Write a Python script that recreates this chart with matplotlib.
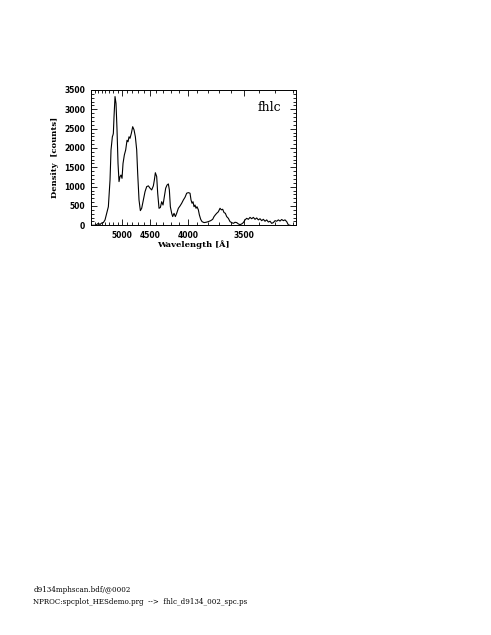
import numpy as np
import matplotlib
matplotlib.use("Agg")
import matplotlib.pyplot as plt

# scan pixel position along the objective-prism spectrum, and measured density
scan_pixel = [0, 15, 23, 28, 33, 38, 43, 48, 53, 58, 61, 65, 67, 68, 70, 73, 76, 79,
              82, 85, 88, 91, 94, 97, 101, 105, 109, 112, 115, 118, 122, 126, 130,
              134, 138, 141, 145, 149, 153, 158, 163, 168, 173, 178, 183, 188, 191,
              194, 198, 201, 205, 209, 213, 217, 221, 225, 229, 233, 236, 239, 243,
              246, 250, 254, 258, 263, 268, 273, 278, 283, 288, 293, 298, 301, 304,
              307, 310, 313, 316, 319, 323, 326, 330, 334, 340, 346, 353, 360, 366,
              370, 374, 378, 383, 388, 392, 396, 400, 404, 408, 413, 418, 423, 428,
              433, 438, 443, 448, 453, 458, 463, 468, 473, 478, 483, 488, 493, 498,
              503, 508, 513, 518, 523, 528, 533, 538, 543, 548, 553, 558, 563, 568,
              573, 578, 583, 588, 593, 598]
density = [0, 0, 50, 20, 60, 70, 140, 310, 480, 1170, 1950, 2290, 2340, 2380, 2810,
           3330, 3150, 2470, 1600, 1130, 1260, 1300, 1215, 1600, 1820, 1950, 2200,
           2160, 2290, 2250, 2380, 2550, 2470, 2290, 1950, 1340, 655, 380, 440, 655,
           870, 1000, 1020, 960, 915, 1020, 1170, 1360, 1260, 830, 440, 460, 610, 525,
           740, 960, 1040, 1070, 915, 480, 310, 225, 310, 225, 310, 440, 500, 570,
           655, 725, 830, 845, 830, 655, 570, 610, 480, 525, 440, 480, 400, 270, 155,
           95, 70, 78, 95, 120, 155, 225, 270, 310, 350, 440, 400, 415, 330, 310, 225,
           180, 95, 70, 50, 78, 70, 35, 17, 35, 70, 140, 180, 155, 205, 170, 205, 155,
           190, 140, 170, 120, 155, 105, 140, 85, 105, 50, 70, 120, 105, 140, 110,
           150, 120, 140, 95, 10, 0]

major_wl = [5000, 4500, 4000, 3500]
minor_wl = list(range(3200, 5900, 100))


def wl_to_pixel(wl):
    # prism dispersion (Hartmann-type relation)
    return -416.3 + 1840200.0 / (np.asarray(wl, dtype=float) - 1400.0)


fig = plt.figure(figsize=(4.91, 6.35), dpi=100)
ax = fig.add_axes([0.1847, 0.6452, 0.4182, 0.2131])

ax.plot(scan_pixel, density, color="black", linewidth=0.8)

ax.set_xlim(0, 616)
ax.set_ylim(0, 3500)

ax.set_xticks(wl_to_pixel(major_wl))
ax.set_xticklabels([str(w) for w in major_wl])
ax.set_xticks(wl_to_pixel(minor_wl), minor=True)
ax.set_yticks(range(0, 3501, 500))
ax.set_yticks(range(0, 3501, 100), minor=True)

ax.tick_params(which="both", direction="in", top=True, right=True, width=0.6)
ax.tick_params(which="major", length=4, labelsize=5.5, pad=4)
ax.tick_params(which="minor", length=2)
for lab in ax.get_xticklabels() + ax.get_yticklabels():
    lab.set_fontweight("bold")
    lab.set_family("DejaVu Sans")
for s in ax.spines.values():
    s.set_linewidth(0.7)

ax.set_xlabel("Wavelength [Å]", fontsize=6, fontweight="bold", family="DejaVu Serif", labelpad=0)
ax.set_ylabel("Density  [counts]", fontsize=6, fontweight="bold", family="DejaVu Serif", labelpad=4)

ax.text(0.93, 0.87, "fhlc", transform=ax.transAxes, ha="right", va="center",
        fontsize=9, family="DejaVu Serif")

fig.text(0.068, 0.071, "d9134mphscan.bdf/@0002", fontsize=5.1, family="DejaVu Serif", va="center")
fig.text(0.068, 0.052, "NPROC:spcplot_HESdemo.prg  -->  fhlc_d9134_002_spc.ps",
         fontsize=5.1, family="DejaVu Serif", va="center")

fig.savefig("out.png", dpi=100)
